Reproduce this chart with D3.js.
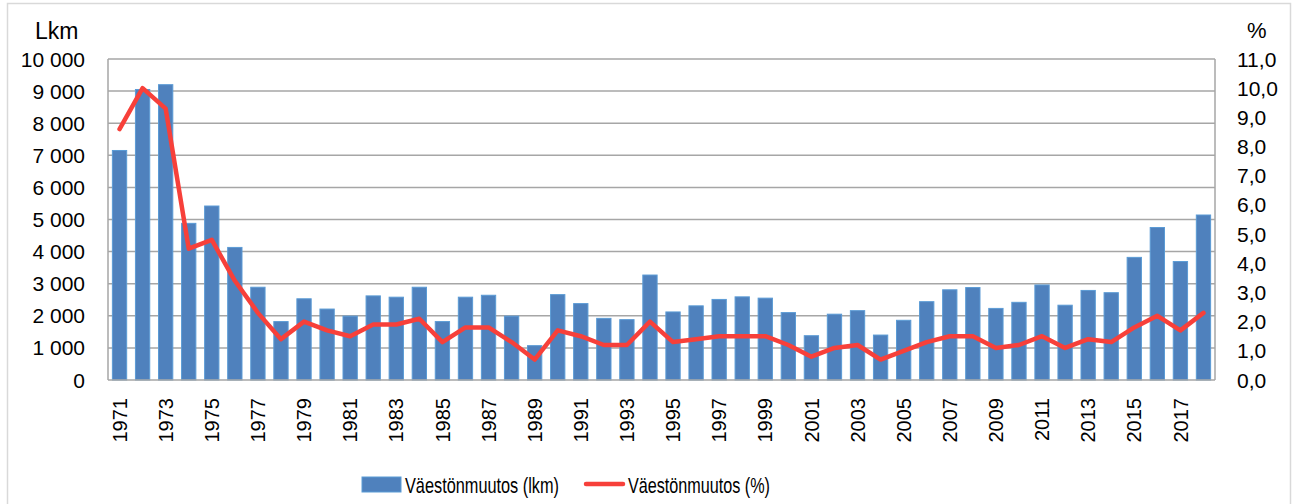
<html>
<head>
<script src="https://d3js.org/d3.v7.min.js"></script>
<style>
body { margin: 0; background: #fff; }
text { font-family: 'Liberation Sans', Arial, sans-serif; fill: #000; }
</style>
</head>
<body>
<svg id="chart"></svg>
<script>

var width = 1293;
var height = 504;

// Data
var years = [1971, 1972, 1973, 1974, 1975, 1976, 1977, 1978, 1979, 1980,
	1981, 1982, 1983, 1984, 1985, 1986, 1987, 1988, 1989, 1990,
	1991, 1992, 1993, 1994, 1995, 1996, 1997, 1998, 1999, 2000,
	2001, 2002, 2003, 2004, 2005, 2006, 2007, 2008, 2009, 2010,
	2011, 2012, 2013, 2014, 2015, 2016, 2017, 2018];

var changeCount = [7150, 9050, 9200, 4880, 5420, 4130, 2890, 1820, 2530, 2210,
	1990, 2620, 2580, 2890, 1820, 2580, 2640, 1990, 1070, 2660,
	2380, 1920, 1880, 3270, 2120, 2310, 2510, 2590, 2550, 2100,
	1380, 2050, 2160, 1400, 1860, 2440, 2810, 2880, 2230, 2420,
	2960, 2330, 2790, 2720, 3820, 4750, 3690, 5140];

var changePct = [8.6, 10.0, 9.3, 4.5, 4.8, 3.4, 2.3, 1.4, 2.0, 1.7,
	1.5, 1.9, 1.9, 2.1, 1.3, 1.8, 1.8, 1.3, 0.7, 1.7,
	1.5, 1.2, 1.2, 2.0, 1.3, 1.4, 1.5, 1.5, 1.5, 1.2,
	0.8, 1.1, 1.2, 0.7, 1.0, 1.3, 1.5, 1.5, 1.1, 1.2,
	1.5, 1.1, 1.4, 1.3, 1.8, 2.2, 1.7, 2.3];

var leftTicks = [0, 1000, 2000, 3000, 4000, 5000, 6000, 7000, 8000, 9000, 10000];
var rightTicks = [0, 1, 2, 3, 4, 5, 6, 7, 8, 9, 10, 11];
var yearLabels = years.filter(function (d) { return d % 2 == 1; });

var seriesNames = ["Väestönmuutos (lkm)", "Väestönmuutos (%)"];
var leftTitle = "Lkm";
var rightTitle = "%";

var plot = { left: 108, right: 1215, top: 59, bottom: 380 };

var svg = d3.select("#chart").attr("width", width).attr("height", height);

// outer chart border
svg.append("rect")
	.attr("x", 7.5).attr("y", 3.5)
	.attr("width", 1283).attr("height", 510)
	.style("fill", "none").style("stroke", "#d9d9d9").style("stroke-width", 1.5);

var xScale = d3.scaleBand()
	.domain(years)
	.range([plot.left, plot.right])
	.paddingInner(0.38)
	.paddingOuter(0.19);

var yLeft = d3.scaleLinear().domain([0, 10000]).range([plot.bottom, plot.top]);
var yRight = d3.scaleLinear().domain([0, 11]).range([plot.bottom, plot.top]);

var fmtLeft = function (d) { return d3.format(",")(d).replace(",", " "); };
var fmtRight = function (d) { return d3.format(".1f")(d).replace(".", ","); };

// gridlines
svg.append("g").selectAll("line").data(leftTicks.slice(1)).enter().append("line")
	.attr("x1", plot.left).attr("x2", plot.right)
	.attr("y1", function (d) { return yLeft(d); })
	.attr("y2", function (d) { return yLeft(d); })
	.style("stroke", "#a6a6a6").style("stroke-width", 1.5);

// right frame line
svg.append("line")
	.attr("x1", plot.right).attr("x2", plot.right)
	.attr("y1", plot.top).attr("y2", plot.bottom)
	.style("stroke", "#a6a6a6").style("stroke-width", 1.5);

// bars
svg.append("g").selectAll("rect").data(changeCount).enter().append("rect")
	.attr("x", function (d, i) { return xScale(years[i]); })
	.attr("width", xScale.bandwidth())
	.attr("y", function (d) { return yLeft(d); })
	.attr("height", function (d) { return yLeft(0) - yLeft(d); })
	.style("fill", "#4f81bd")
	.style("stroke", "#5b9bd5")
	.style("stroke-width", 1);

// axis lines
svg.append("line")
	.attr("x1", plot.left).attr("x2", plot.left)
	.attr("y1", plot.top).attr("y2", plot.bottom)
	.style("stroke", "#a6a6a6").style("stroke-width", 1.5);
svg.append("line")
	.attr("x1", plot.left).attr("x2", plot.right)
	.attr("y1", plot.bottom).attr("y2", plot.bottom)
	.style("stroke", "#a6a6a6").style("stroke-width", 1.5);

// percent line
var line = d3.line()
	.x(function (d, i) { return xScale(years[i]) + xScale.bandwidth() / 2; })
	.y(function (d) { return yRight(d); });

svg.append("path")
	.datum(changePct)
	.attr("d", line)
	.style("fill", "none")
	.style("stroke", "#f7403a")
	.style("stroke-width", 4.5)
	.style("stroke-linejoin", "round")
	.style("stroke-linecap", "round");

// left axis labels
svg.append("g").selectAll("text").data(leftTicks).enter().append("text")
	.attr("x", 85)
	.attr("y", function (d) { return yLeft(d); })
	.attr("dy", "0.36em")
	.attr("text-anchor", "end")
	.style("font-size", "21px")
	.text(fmtLeft);

// right axis labels
svg.append("g").selectAll("text").data(rightTicks).enter().append("text")
	.attr("x", 1237)
	.attr("y", function (d) { return yRight(d); })
	.attr("dy", "0.36em")
	.attr("text-anchor", "start")
	.style("font-size", "21px")
	.text(fmtRight);

// axis titles
svg.append("text").attr("x", 35).attr("y", 39)
	.style("font-size", "23px").text(leftTitle);
svg.append("text").attr("x", 1247).attr("y", 38)
	.style("font-size", "22px").text(rightTitle);

// year labels, rotated
svg.append("g").selectAll("text").data(yearLabels).enter().append("text")
	.attr("transform", function (d) {
		var cx = xScale(d) + xScale.bandwidth() / 2;
		return "translate(" + cx + ",398) rotate(-90)";
	})
	.attr("dy", "0.36em")
	.attr("text-anchor", "end")
	.style("font-size", "20px")
	.text(function (d) { return d; });

// legend (text squeezed to the narrow look of the original)
var legend = svg.append("g");
legend.append("rect")
	.attr("x", 362).attr("y", 477).attr("width", 39).attr("height", 15)
	.style("fill", "#4f81bd").style("stroke", "#5b9bd5").style("stroke-width", 1);
legend.append("text")
	.attr("x", 405).attr("y", 485).attr("dy", "0.36em")
	.attr("textLength", 154).attr("lengthAdjust", "spacingAndGlyphs")
	.style("font-size", "22px")
	.text(seriesNames[0]);
legend.append("line")
	.attr("x1", 586).attr("x2", 623).attr("y1", 484).attr("y2", 484)
	.style("stroke", "#f7403a").style("stroke-width", 4.5).style("stroke-linecap", "round");
legend.append("text")
	.attr("x", 628).attr("y", 485).attr("dy", "0.36em")
	.attr("textLength", 142).attr("lengthAdjust", "spacingAndGlyphs")
	.style("font-size", "22px")
	.text(seriesNames[1]);

</script>
</body>
</html>
